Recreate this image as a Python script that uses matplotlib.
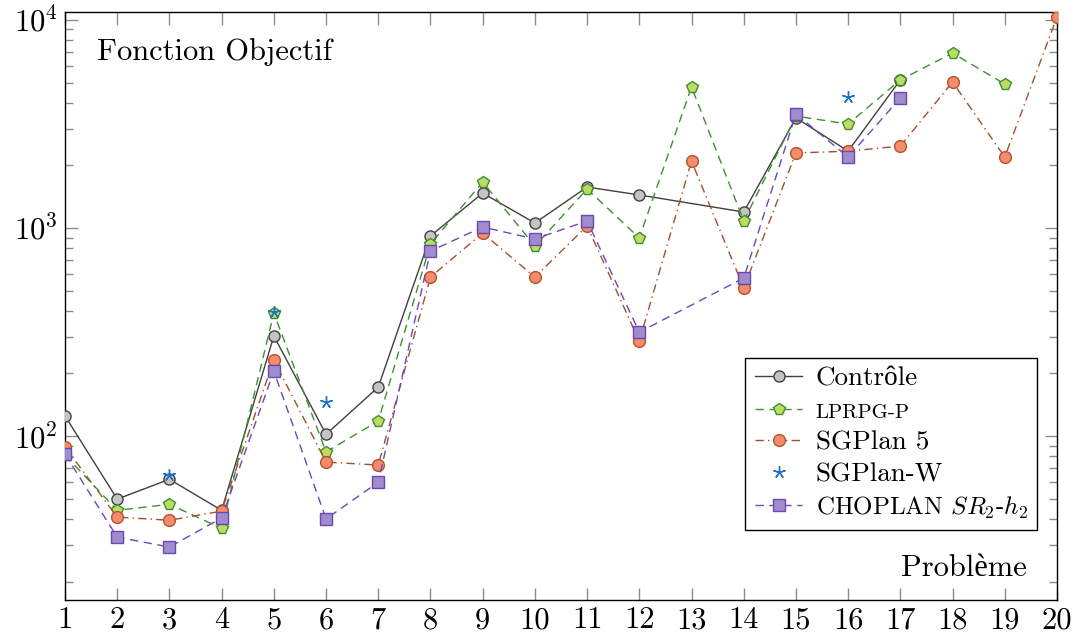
import numpy as np
import matplotlib
matplotlib.use("Agg")
import matplotlib.pyplot as plt
from matplotlib.ticker import LogLocator, NullFormatter

plt.rcParams['font.family'] = ['cmr10', 'Liberation Serif']
plt.rcParams['mathtext.fontset'] = 'cm'
plt.rcParams['axes.formatter.use_mathtext'] = True

problems = list(range(1, 21))
nan = np.nan

controle = [125, 49.8, 62, 44, 303, 102, 172, 916, 1472, 1057, 1574, 1442, nan, 1194,
            3381, 2344, 5150, nan, nan, nan]
lprpg = [81, 44, 47, 36, 390, 84, 118, 838, 1663, 819, 1541, 896, 4766, 1081,
         3450, 3162, 5150, 6935, 4920, nan]
sgplan5 = [88.6, 40.8, 39.4, 43.6, 232, 75, 72.6, 581, 946, 581, 1024, 286, 2098, 515,
           2296, 2340, 2477, 5035, 2193, 10330]
sgplanw = [nan, nan, 64.9, nan, 394, 146, nan, nan, nan, nan, nan, nan, nan, nan,
           nan, 4268, nan, nan, nan, nan]
choplan = [82, 32.7, 29.3, 40.4, 205, 40, 60, 775, 1011, 886, 1081, 316, nan, 575,
           3532, 2193, 4217, nan, nan, nan]

def connected(xs, ys):
    xs = np.array(xs, float); ys = np.array(ys, float)
    m = ~np.isnan(ys)
    return xs[m], ys[m]

fig = plt.figure(figsize=(10.78, 6.39), dpi=100)
ax = fig.add_axes([0.0603, 0.061, 0.9202, 0.9202])

fs = 22

x, y = connected(problems, controle)
ax.plot(x, y, '-', color='#404040', lw=1.0, marker='o', ms=8,
        mfc='#c4c4c4', mec='#404040', mew=1.0, label='Contrôle', zorder=3)
x, y = connected(problems, lprpg)
ax.plot(x, y, color='#3f8f2f', lw=1.0, dashes=(6, 4), marker='p', ms=8.5,
        mfc='#bcdc64', mec='#3f8f2f', mew=1.0, label='LPRPG-P', zorder=3)
x, y = connected(problems, sgplan5)
ax.plot(x, y, color='#a0502a', lw=1.0, dashes=(6, 3, 1, 3), marker='o', ms=8.5,
        mfc='#f48c6c', mec='#b8502c', mew=1.0, label='SGPlan 5', zorder=3)
x, y = connected(problems, sgplanw)
ax.plot(x, y, linestyle='none', color='#1a73c8', marker=(5, 2, 0), ms=9,
        mec='#1a73c8', mew=1.0, label='SGPlan-W', zorder=4)
x, y = connected(problems, choplan)
ax.plot(x, y, color='#6a48c0', lw=1.0, dashes=(6, 4), marker='s', ms=8.5,
        mfc='#a08ccc', mec='#6a48b0', mew=1.0, label=r'CHOPLAN $SR_2$-$h_2$', zorder=3)

ax.set_yscale('log')
ax.set_xlim(1, 20)
ax.set_ylim(16.3, 10920)
ax.set_xticks(problems)
ax.set_xticklabels([str(p) for p in problems], fontsize=fs)
ax.yaxis.set_major_locator(LogLocator(base=10, numticks=10))
ax.yaxis.set_minor_locator(LogLocator(base=10, subs=np.arange(2, 10), numticks=20))
ax.yaxis.set_minor_formatter(NullFormatter())
for lab in ax.get_yticklabels():
    lab.set_fontsize(fs)
ax.tick_params(axis='both', which='major', direction='in', length=9, width=1.0,
               color='#8c8c8c', labelsize=fs, top=True, right=True)
ax.tick_params(axis='y', which='minor', direction='in', length=6, width=1.0,
               color='#8c8c8c', right=True, left=True)
ax.tick_params(axis='x', which='major', pad=5)
ax.tick_params(axis='y', which='major', pad=5)
for s in ax.spines.values():
    s.set_linewidth(1.0)
    s.set_color('black')

ax.text(0.032, 0.932, 'Fonction Objectif', transform=ax.transAxes, fontsize=fs,
        ha='left', va='center')
ax.text(0.97, 0.054, 'Problème', transform=ax.transAxes, fontsize=fs,
        ha='right', va='center')

leg = ax.legend(loc='lower right', bbox_to_anchor=(0.98, 0.119), fontsize=19.5,
                frameon=True, fancybox=False, edgecolor='black', framealpha=1,
                handlelength=1.75, handletextpad=0.5, borderpad=0.35,
                labelspacing=0.3, borderaxespad=0)
leg.get_frame().set_linewidth(1.0)
leg.get_texts()[1].set_fontsize(15)
leg.get_texts()[4].set_fontsize(18)

fig.savefig('out.png', dpi=100)
